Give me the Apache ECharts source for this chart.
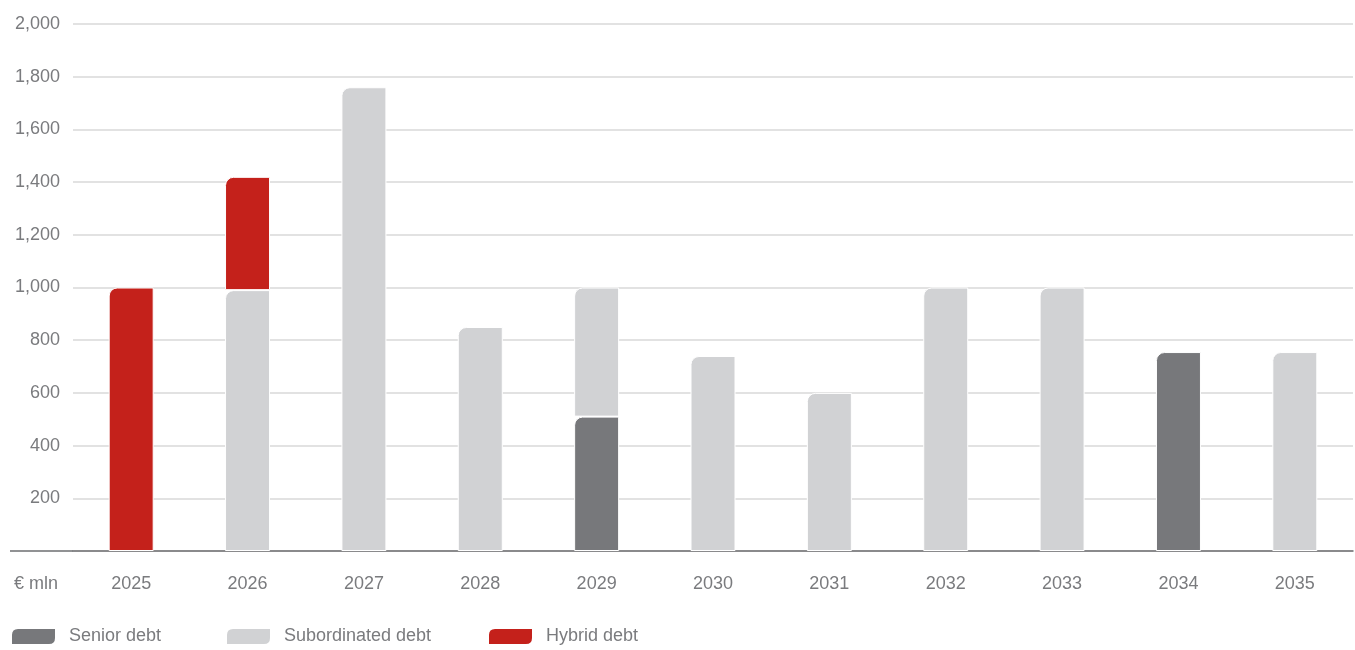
<!DOCTYPE html>
<html><head><meta charset="utf-8">
<script src="https://cdn.jsdelivr.net/npm/echarts@6/dist/echarts.min.js"></script>
<style>html,body{margin:0;padding:0;background:#fff}#c{width:1355px;height:650px}</style>
</head><body><div id="c"></div>
<script>
const categories = ['2025','2026','2027','2028','2029','2030','2031','2032','2033','2034','2035'];
const seniorDebt = [null, null, null, null, 510, null, null, null, null, 755, null];
const subordinatedDebt = [null, 990, 1760, 850, 490, 740, 600, 1000, 1000, null, 755];
const hybridDebt = [1000, 430, null, null, null, null, null, null, null, null, null];
const yTicks = [0, 200, 400, 600, 800, 1000, 1200, 1400, 1600, 1800, 2000];

const FONT = '"Liberation Sans Narrow", "Liberation Sans", Arial, sans-serif';
const TXT = '#7a7b7e';
const colors = {senior:'#77787b', sub:'#d1d2d4', hybrid:'#c4211b'};
const icon = 'path://M7,0 L45,0 L45,10 Q45,17 38,17 L0,17 L0,7 Q0,0 7,0 Z';

const chart = echarts.init(document.getElementById('c'), null, {renderer:'canvas'});
function leg(name, left){
  return {data:[name], left:left, top:627, padding:0, icon:icon, itemWidth:45, itemHeight:17, itemGap:0,
    selectedMode:false, textStyle:{fontFamily:FONT, fontSize:18, color:TXT, padding:[0,0,0,8]}};
}
const bar = (name, data, color) => ({
  name, type:'bar', stack:'t', data, barWidth:45,
  itemStyle:{color, borderColor:'#fff', borderWidth:1, borderRadius:[8,0,0,0]},
  emphasis:{disabled:true}
});
chart.setOption({
  animation:false,
  grid:{left:73, right:2, top:24, bottom:99, containLabel:false},
  legend:[leg('Senior debt',10), leg('Subordinated debt',225), leg('Hybrid debt',487)],
  xAxis:{type:'category', data:categories,
    axisLine:{show:true, lineStyle:{color:'#6d6e70', width:1.5}},
    axisTick:{show:false},
    axisLabel:{fontFamily:FONT, fontSize:18, color:TXT, margin:24}},
  yAxis:{type:'value', min:0, max:2000, interval:200,
    axisLine:{show:false}, axisTick:{show:false},
    splitLine:{lineStyle:{color:'#d9d9d9', width:1.5}},
    axisLabel:{fontFamily:FONT, fontSize:18, color:TXT, margin:13,
      formatter:v => v===0 ? '' : v.toLocaleString('en-US')}},
  graphic:[
    {type:'line', shape:{x1:10, y1:551, x2:73, y2:551}, style:{stroke:'#6d6e70', lineWidth:1.5}},
    {type:'text', left:14, top:575, style:{text:'€ mln', font:'18px ' + FONT, fill:TXT}}
  ],
  series:[
    bar('Senior debt', seniorDebt, colors.senior),
    bar('Subordinated debt', subordinatedDebt, colors.sub),
    bar('Hybrid debt', hybridDebt, colors.hybrid)
  ]
});
</script></body></html>
